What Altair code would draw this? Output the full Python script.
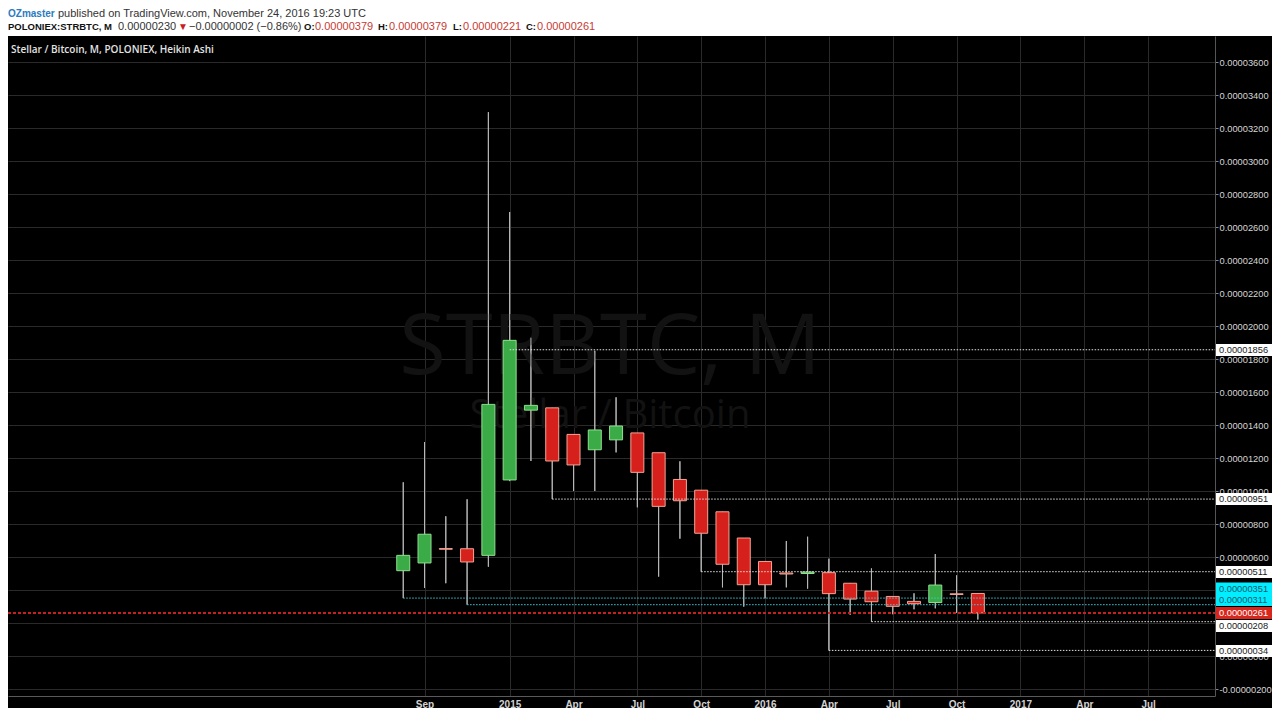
import altair as alt
import pandas as pd

# ---------------- data (Heikin Ashi, values in satoshi = 1e-8 BTC) ----------------
months = ["2014-08", "2014-09", "2014-10", "2014-11", "2014-12",
          "2015-01", "2015-02", "2015-03", "2015-04", "2015-05", "2015-06",
          "2015-07", "2015-08", "2015-09", "2015-10", "2015-11", "2015-12",
          "2016-01", "2016-02", "2016-03", "2016-04", "2016-05", "2016-06",
          "2016-07", "2016-08", "2016-09", "2016-10", "2016-11"]
ha_open = [517, 564, 651, 650, 610, 1067, 1490, 1504, 1343, 1250, 1310,
           1352, 1232, 1070, 1005, 874, 715, 573, 503, 500, 505, 441, 393,
           361, 331, 324, 377, 379]
ha_high = [1053, 1297, 847, 950, 3296, 2691, 1929, 1504, 1343, 1850, 1568,
           1352, 1232, 1180, 1005, 874, 715, 573, 697, 723, 590, 441, 531,
           361, 380, 618, 489, 379]
ha_low = [351, 412, 441, 311, 541, 1060, 1182, 951, 1000, 1000, 1234,
          901, 481, 711, 511, 416, 299, 350, 416, 408, 34, 250, 208,
          253, 283, 289, 262, 221]
ha_close = [610, 738, 647, 570, 1525, 1913, 1519, 1182, 1158, 1370, 1394,
            1113, 907, 941, 744, 556, 432, 432, 497, 509, 378, 345, 329,
            301, 317, 430, 373, 261]

# x-axis ticks (month index, 0 = Aug 2014)
tick_idx = [1, 5, 8, 11, 14, 17, 20, 23, 26, 29, 32, 35]
tick_labels = ["Sep", "2015", "Apr", "Jul", "Oct", "2016", "Apr", "Jul",
               "Oct", "2017", "Apr", "Jul"]
# y-axis ticks (satoshi)
y_ticks = [-200, 0, 200, 400, 600, 800, 1000, 1200, 1400, 1600, 1800, 2000,
           2200, 2400, 2600, 2800, 3000, 3200, 3400, 3600]

# horizontal drawing levels
level_values = [1856, 951, 511, 351, 311, 261, 208, 34]
level_start = [5, 7, 14, 0, 3, -99, 22, 20]
level_kind = ["white", "white", "white", "cyan", "cyan", "red", "white", "white"]
tag_pos = [1855, 951, 509, 409, 339, 261, 182, 30]

# ---------------- layout / style ----------------
W, H = 1207, 660
X_DOM = [-18.337, 37.908]
Y_DOM = [-242.4, 3757.6]
GRID = "#2a2a2a"
UP_FILL, UP_LINE = "#3aab47", "#8ee08f"
DN_FILL, DN_LINE = "#d6201c", "#f3a595"

xs = alt.Scale(domain=X_DOM, nice=False, zero=False)
ys = alt.Scale(domain=Y_DOM, nice=False, zero=False)

label_expr = " : ".join(
    f"datum.value == {i} ? '{t}'" for i, t in zip(tick_idx, tick_labels)) + " : ''"

x_axis = alt.Axis(values=tick_idx, labelExpr=label_expr, grid=True,
                  gridColor=GRID, gridWidth=1, domainColor="#5a5a5a",
                  ticks=False, labelColor="#d2d2d2",
                  labelFont="Liberation Sans Narrow, Liberation Sans, sans-serif",
                  labelFontSize=10, labelFontWeight="bold", labelPadding=3,
                  title=None, zindex=0, labelOverlap=False)
y_axis = alt.Axis(orient="right", values=y_ticks,
                  labelExpr="replace(format(datum.value * 1e-8, '.8f'), '\u2212', '-')",
                  grid=True, gridColor=GRID, gridWidth=1,
                  domainColor="#555555", tickColor="#888888", tickSize=3,
                  labelPadding=1, labelColor="#d6d6d6",
                  labelFont="Liberation Sans", labelFontSize=9.3,
                  title=None, zindex=0, labelOverlap=False)


def X(field):
    return alt.X(field, scale=xs, axis=x_axis)


def Y(field):
    return alt.Y(field, scale=ys, axis=y_axis)


df = pd.DataFrame({"month": months, "idx": list(range(len(months))),
                   "open": ha_open, "high": ha_high, "low": ha_low,
                   "close": ha_close})
df["dir"] = ["up" if c >= o else "down" for o, c in zip(ha_open, ha_close)]

lv = pd.DataFrame({"val": level_values, "start": level_start,
                   "kind": level_kind, "pos": tag_pos})
one = pd.DataFrame({"a": [0]})

layers = []

# wicks (carry the axes)
layers.append(alt.Chart(df).mark_rule(color="#b8b8b8", strokeWidth=1).encode(
    x=X("idx:Q"), y=Y("low:Q"), y2="high:Q"))

# watermark
layers.append(alt.Chart(one).mark_text(
    text="STRBTC, M", font="Open Sans", fontSize=85, color="#121212",
    align="center", baseline="alphabetic").encode(
    x=alt.value(602), y=alt.value(338)))
layers.append(alt.Chart(one).mark_text(
    text="Stellar / Bitcoin", font="Open Sans", fontSize=40, color="#121212",
    align="center", baseline="alphabetic").encode(
    x=alt.value(602), y=alt.value(392)))

# wicks again above watermark
layers.append(alt.Chart(df).mark_rule(color="#b8b8b8", strokeWidth=1).encode(
    x=X("idx:Q"), y=Y("low:Q"), y2="high:Q"))

# bodies
layers.append(alt.Chart(df).mark_bar(size=13, strokeWidth=1, orient="vertical").encode(
    x=X("idx:Q"), y=Y("open:Q"), y2="close:Q",
    fill=alt.Fill("dir:N", scale=alt.Scale(domain=["up", "down"],
                                           range=[UP_FILL, DN_FILL]), legend=None),
    stroke=alt.Stroke("dir:N", scale=alt.Scale(domain=["up", "down"],
                                               range=[UP_LINE, DN_LINE]), legend=None)))

# level lines
line_col = {"white": "#e2e2e2", "cyan": "#3ccbd8"}
for kind, col in line_col.items():
    layers.append(alt.Chart(lv).transform_filter(f"datum.kind == '{kind}'").mark_rule(
        color=col, strokeWidth=1, strokeDash=[1.5, 1.5]).encode(
        x=X("start:Q"), x2=alt.value(W), y=Y("val:Q")))
layers.append(alt.Chart(lv).transform_filter("datum.kind == 'red'").mark_rule(
    color="#c81e1e", strokeWidth=2, strokeDash=[3, 2]).encode(
    x=alt.value(0), x2=alt.value(W), y=Y("val:Q")))

# price tags on the axis
tag_fill = {"white": "#ffffff", "cyan": "#00eeff", "red": "#d8261c"}
tag_text = {"white": "#1a1a1a", "cyan": "#14586a", "red": "#ffffff"}
for kind in ["white", "cyan", "red"]:
    base = alt.Chart(lv).transform_filter(f"datum.kind == '{kind}'").transform_calculate(
        label="format(datum.val * 1e-8, '.8f')")
    layers.append(base.mark_rect(height=12, color=tag_fill[kind]).encode(
        x=alt.value(W + 1), x2=alt.value(W + 57), y=Y("pos:Q")))
    layers.append(base.mark_text(align="left", baseline="middle", fontSize=9.3,
                                 font="Liberation Sans", color=tag_text[kind]).encode(
        x=alt.value(W + 4), y=Y("pos:Q"), text="label:N"))

# header band
layers.append(alt.Chart(one).mark_rect(color="#ffffff").encode(
    x=alt.value(0), x2=alt.value(W + 57), y=alt.value(-28), y2=alt.value(0)))


def txt(s, x, y, color, size=11, weight="normal", font="Liberation Sans"):
    return alt.Chart(one).mark_text(text=s, align="left", baseline="middle",
                                    fontSize=size, fontWeight=weight, font=font,
                                    color=color).encode(x=alt.value(x), y=alt.value(y))


RED_T = "#c83a32"
L1, L2 = -22, -9
header = [
    ("OZmaster", 0, L1, "#2b7bc0", 10, "bold"),
    ("published on TradingView.com, November 24, 2016 19:23 UTC", 50, L1, "#333333", 11, "normal"),
    ("POLONIEX:STRBTC, M", 0, L2, "#111111", 9.5, "bold"),
    ("0.00000230", 110, L2, "#333333", 11, "normal"),
    ("\u25BC", 170, L2, "#c81e1e", 10, "normal"),
    ("\u22120.00000002 (\u22120.86%)", 181, L2, "#333333", 11, "normal"),
    ("O:", 296, L2, "#111111", 9.5, "bold"),
    ("0.00000379", 307, L2, RED_T, 11, "normal"),
    ("H:", 370, L2, "#111111", 9.5, "bold"),
    ("0.00000379", 381, L2, RED_T, 11, "normal"),
    ("L:", 445, L2, "#111111", 9.5, "bold"),
    ("0.00000221", 455, L2, RED_T, 11, "normal"),
    ("C:", 518, L2, "#111111", 9.5, "bold"),
    ("0.00000261", 529, L2, RED_T, 11, "normal"),
]
for s, x, y, c, sz, wt in header:
    layers.append(txt(s, x, y, c, sz, wt))

layers.append(txt("Stellar / Bitcoin, M, POLONIEX, Heikin Ashi", 3, 14, "#e4e4e4",
                  10, 600, "Open Sans"))

chart = alt.layer(*layers).properties(
    width=W, height=H, background="#000000",
    padding={"left": 0, "top": 28, "right": 57, "bottom": 12},
    autosize=alt.AutoSizeParams(type="none"),
).configure_view(stroke=None)

chart.save("out.html", embed_options={"renderer": "svg", "actions": False})
